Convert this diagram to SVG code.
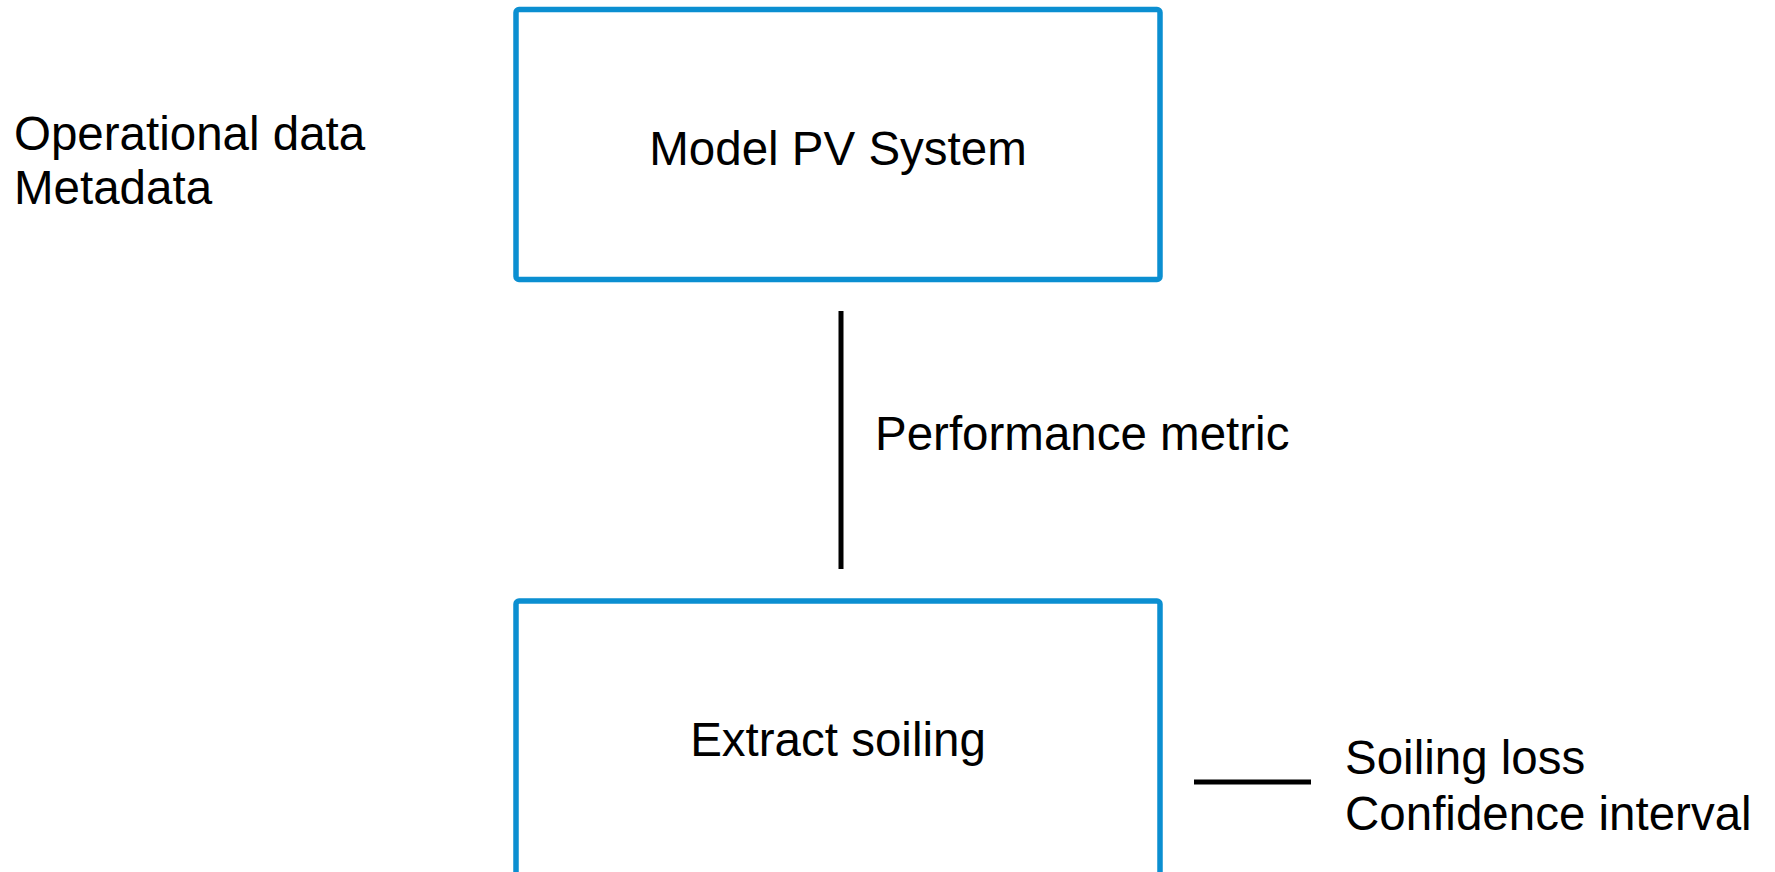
<svg xmlns="http://www.w3.org/2000/svg" width="1775" height="872" viewBox="0 0 1775 872">
<style>
.box{fill:#ffffff;stroke:#0b8fd1;stroke-width:5.5}
.t{font-family:"Liberation Sans",Arial,sans-serif;font-size:47.5px;fill:#000000}
.c{text-anchor:middle}
.ln{stroke:#000000;stroke-width:5;fill:none}
</style>
<rect width="1775" height="872" fill="#ffffff"/>
<g id="inputs">
<text class="t" x="14" y="150">Operational data</text>
<text class="t" x="14" y="204">Metadata</text>
</g>
<g id="model">
<rect class="box" x="516" y="9.5" width="644" height="270" rx="3"/>
<text class="t c" x="838" y="165">Model PV System</text>
</g>
<g id="extract">
<rect class="box" x="516" y="601" width="644" height="274" rx="3"/>
<text class="t c" x="838" y="756">Extract soiling</text>
</g>
<g id="outputs">
<text class="t" x="1345" y="774">Soiling loss</text>
<text class="t" x="1345" y="830">Confidence interval</text>
</g>
<g id="connectors">
<line class="ln" x1="841" y1="311" x2="841" y2="569"/>
<text class="t" x="875" y="450">Performance metric</text>
<line class="ln" x1="1194" y1="782" x2="1311" y2="782"/>
</g>
</svg>
